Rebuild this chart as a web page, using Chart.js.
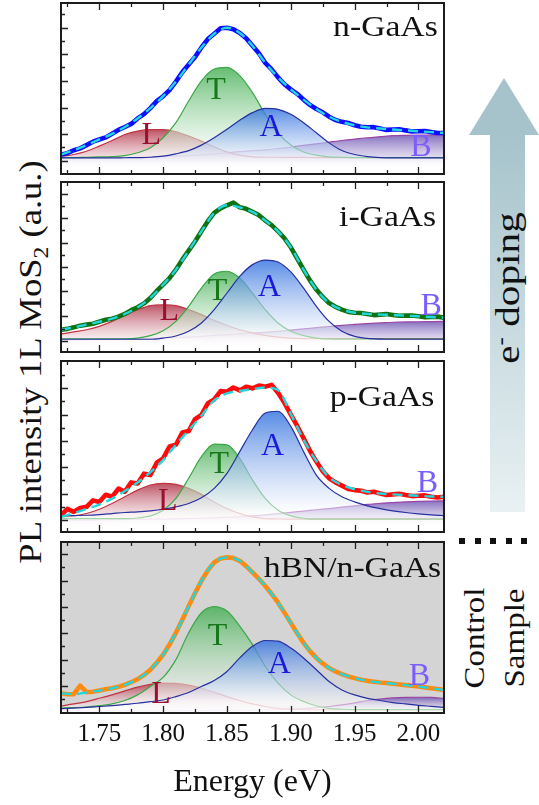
<!DOCTYPE html>
<html>
<head>
<meta charset="utf-8">
<script src="https://cdn.jsdelivr.net/npm/chart.js@4.4.1/dist/chart.umd.min.js"></script>
<style>
  html, body { margin: 0; padding: 0; background: #fff; }
  #fig { position: relative; width: 539px; height: 805px; overflow: hidden;
         font-family: 'Liberation Serif', 'Times New Roman', serif; color: #111; }
  .panel { position: absolute; left: 55px; }
  .rot { position: absolute; white-space: nowrap; transform-origin: center; }
</style>
</head>
<body>
<div id="fig">
  <div class="panel" style="top:0px"><canvas id="c1" width="395" height="180"></canvas></div>
  <div class="panel" style="top:176px"><canvas id="c2" width="395" height="182"></canvas></div>
  <div class="panel" style="top:355px"><canvas id="c3" width="395" height="183"></canvas></div>
  <div class="panel" style="top:536px"><canvas id="c4" width="395" height="269"></canvas></div>

  <div class="rot" style="left:33px; top:362px; font-size:31px; transform: translate(-50%,-50%) rotate(-90deg) scaleX(1.18);">PL intensity 1L MoS<sub style="font-size:20px">2</sub> (a.u.)</div>

  <div style="position:absolute; left:469px; top:78px; width:70px; height:57px; background:#a6c3cb; clip-path: polygon(50% 0, 100% 100%, 0 100%);"></div>
  <div style="position:absolute; left:490px; top:134px; width:35px; height:378px; background: linear-gradient(#a6c3cb, #e9f1f3);"></div>
  <div class="rot" style="left:508px; top:288px; font-size:33px; transform: translate(-50%,-50%) rotate(-90deg) scaleX(1.25);">e<sup style="font-size:20px">-</sup> doping</div>

  <div style="position:absolute; left:459px; top:538px; width:75px; height:6px; background: repeating-linear-gradient(90deg, #111 0 6px, transparent 6px 15.5px);"></div>
  <div class="rot" style="left:494px; top:638px; font-size:30px; line-height:40px; text-align:center; transform: translate(-50%,-50%) rotate(-90deg) scaleX(1.1);">Control<br>Sample</div>
</div>

<script>
// ── Shared axis values ───────────────────────────────────────
const energy = [1.72,1.73,1.74,1.75,1.76,1.77,1.78,1.79,1.80,1.81,1.82,1.83,1.84,1.85,1.86,1.87,1.88,1.89,1.90,1.91,1.92,1.93,1.94,1.95,1.96,1.97,1.98,1.99,2.00,2.01,2.02];
const energyFine = [1.720,1.725,1.730,1.735,1.740,1.745,1.750,1.755,1.760,1.765,1.770,1.775,1.780,1.785,1.790,1.795,1.800,1.805,1.810,1.815,1.820,1.825,1.830,1.835,1.840,1.845,1.850,1.855,1.860,1.865,1.870,1.875,1.880,1.885,1.890,1.895,1.900,1.905,1.910,1.915,1.920,1.925,1.930,1.935,1.940,1.945,1.950,1.955,1.960,1.965,1.970,1.975,1.980,1.985,1.990,1.995,2.000,2.005,2.010,2.015,2.020];
const xMajorTicks = [1.75, 1.80, 1.85, 1.90, 1.95, 2.00];
const xMinorTicks = [1.725, 1.775, 1.825, 1.875, 1.925, 1.975];
const peakNames = ['L', 'T', 'A', 'B'];

// ── n-GaAs ───────────────────────────────────────────────────
const nData = [11.4,12.2,13.9,15.0,16.9,18.9,20.2,21.4,23.5,25.8,27.5,29.3,32.5,35.0,38.5,42.6,45.5,49.1,54.0,59.5,64.0,68.4,74.0,78.9,82.0,85.2,85.5,84.6,82.5,79.4,75.0,70.6,65.0,61.2,56.5,52.5,49.5,46.9,43.5,40.4,38.0,36.1,33.5,31.6,30.5,29.8,28.5,27.6,27.3,27.4,26.6,25.8,26.0,26.2,25.5,24.9,25.0,25.1,24.5,24.0,24.0];
const nFit  = [11.4,13.9,16.9,20.2,23.5,27.5,32.5,38.5,45.5,54,64,74,82,85.5,82.5,75,65,56.5,49.5,43.5,38,33.5,30.5,28.5,27.3,26.6,26,25.5,25,24.5,24];
const nL = [10.2,11.4,13.3,16.3,19.6,23.1,25.1,25.9,25.9,24.7,22.2,19.2,15.9,12.9,11,10,9.8,9.8,9.7,9.7,9.6,9.6,9.6,9.6,9.5,9.5,9.5,9.5,9.5,9.5,9.5];
const nT = [9.6,9.6,9.8,10,10.2,10.8,12.4,15.3,21.2,30,42.7,54.5,61.4,62.4,57.5,47.6,34.9,24.1,16.9,12.9,11,10,9.8,9.6,9.6,9.6,9.6,9.6,9.6,9.6,9.6];
const nA = [9.4,9.4,9.4,9.4,9.4,9.5,9.6,9.8,10.4,11.8,13.7,16.9,21.2,26.1,31.4,35.9,38.4,37.8,34.9,30,24.1,18.2,13.7,11.4,10.2,9.6,9.4,9.4,9.4,9.4,9.4];
const nB = [9,9.1,9.2,9.3,9.4,9.6,9.8,10,10.2,10.5,10.8,11.2,11.8,12.4,13.1,13.7,14.1,14.9,15.7,16.7,17.6,18.6,19.6,20.4,21.2,21.8,22.4,22.6,22.7,22.7,22.7];
const nLabelPos = [[1.7908,22.2],[1.8414,48.6],[1.8845,27],[2.002,15.3]];
const nYMajor = [7.8,23.5,38.8,54.5,70.2,85.5];
const nYMinor = [15.6,31.2,46.7,62.4,77.9,93.3];

// ── i-GaAs ───────────────────────────────────────────────────
const iData = [13.1,13.6,14.5,15.5,16.1,16.6,17.8,19.0,19.6,20.8,22.4,24.6,26.3,28.6,31.8,35.9,39.6,43.5,48.4,54.3,59.6,65.0,71.0,76.9,81.8,84.5,86.3,87.9,85.1,84.2,82.4,80.5,77.3,74.6,71.0,66.9,61.6,55.0,48.4,42.1,36.7,32.4,28.8,26.6,24.9,23.6,23.1,22.9,22.4,21.7,22.0,22.3,21.8,21.3,21.4,21.5,21.0,20.5,20.6,20.8,20.2];
const iFit  = [13.1,14.5,16.1,17.8,19.6,22.4,26.3,31.8,39.6,48.4,59.6,71,81.8,86.3,85.1,82.4,77.3,71,61.6,48.4,36.7,28.8,24.9,23.1,22.4,22,21.8,21.4,21,20.6,20.2];
const iL = [10.6,11.8,13.1,15.1,18,21.6,24.9,27.3,27.8,27.3,24.9,22,18.6,15.7,13.1,11.2,9.8,8.8,8.2,7.9,7.8,7.8,7.8,7.8,7.8,7.8,7.8,7.8,7.8,7.8,7.8];
const iT = [7.8,7.8,7.8,7.8,7.8,7.8,8.2,9.6,12.5,18,26.9,37.6,45.9,47.5,43.5,34.7,24.9,17.1,12.2,9.6,8.2,7.7,7.6,7.6,7.6,7.6,7.6,7.6,7.6,7.6,7.6];
const iA = [7.5,7.5,7.5,7.5,7.5,7.5,7.5,7.5,8.2,9.4,12.2,17.1,24.9,34.7,44.5,51.4,54.1,52.9,47.1,37.6,26.9,18,12.2,9.2,8,7.6,7.5,7.5,7.5,7.5,7.5];
const iB = [7.1,7.2,7.3,7.4,7.5,7.6,7.8,8,8.2,8.5,8.8,9.2,9.8,10.2,10.7,11.1,11.6,12.2,12.9,13.6,14.3,15,15.7,16.2,16.7,17.1,17.5,17.7,17.8,17.9,18];
const iLabelPos = [[1.8049,23.9],[1.8427,35.7],[1.8832,37.6],[2.01,26.9]];
const iYMajor = [6.6,21,35.7,49.8,64.1,78.8,93.1];
const iYMinor = [13.8,28.4,42.8,57,71.5,86];

// ── p-GaAs ───────────────────────────────────────────────────
const pData = [9.8,13.5,11.8,14.0,14.7,18.5,17.6,21.8,20.6,25.4,23.5,29.0,28.4,34.1,33.3,40.5,43.1,50.0,51.0,58.2,59.0,66.0,68.5,75.3,77.5,82.4,82.0,84.5,82.8,84.9,84.0,85.6,85.0,86.0,81.4,75.5,68.6,62.0,54.9,47.5,41.2,35.6,31.4,29.0,27.1,25.2,24.5,24.1,23.1,23.5,22.5,21.6,22.0,22.4,21.6,21.0,21.2,21.4,20.6,20.2,20.6];
const pFit  = [8.8,11,13.5,16,19.5,24,29,35,42,51,59.5,68,77,81,82.5,83.5,84.5,83,69,54,41.5,32,27.5,25,23.5,22.5,22,21.6,21.2,20.8,20.6];
const pL = [8.8,9.4,10.8,13.3,16.7,20.6,24.5,27.5,28.4,27.8,25.5,22,17.6,13.7,10.8,8.8,7.8,7.6,7.5,7.5,7.5,7.5,7.5,7.5,7.5,7.5,7.5,7.5,7.5,7.5,7.5];
const pT = [7.8,7.8,7.8,7.8,7.8,7.8,8.2,9.4,12.7,19.6,31.4,44.1,51.4,51,43.1,30.4,19.6,12.7,9.4,8,7.5,7.5,7.5,7.5,7.5,7.5,7.5,7.5,7.5,7.5,7.5];
const pA = [9.4,9.6,9.8,10.2,10.8,11.4,11.8,12.4,13.3,14.7,16.7,20,25.5,34.3,47,59.8,69.6,70.6,61.8,47,33.3,25.5,20.6,17.6,15.3,13.7,12.4,11.4,10.6,10,9.6];
const pB = [6.9,7,7,7.1,7.2,7.3,7.4,7.5,7.5,7.7,7.9,8.1,8.3,8.6,8.9,9.4,10,10.8,11.5,12.2,13,13.7,14.5,15.3,16.1,16.8,17.2,17.6,17.9,18.1,18.2];
const pLabelPos = [[1.8036,17.6],[1.844,39.2],[1.8858,50],[2.007,28.4]];
const pYMajor = [7.3,22.5,37.8,53.3,68.6,84.3];
const pYMinor = [14.9,30.2,45.6,61,76.5,92];

// ── hBN/n-GaAs (control) ─────────────────────────────────────
const hData = [11.6,11.0,11.0,16.0,12.2,12.4,13.1,13.9,14.5,15.3,16.5,18.0,19.8,22.2,25.3,29.4,34.1,40.0,46.9,54.6,62.5,70.2,77.3,83.4,88.0,90.4,91.0,90.6,89.0,85.9,82.2,78.5,74.3,69.6,64.5,58.7,52.7,46.6,41.0,36.2,32.2,29.0,26.3,24.3,22.7,21.4,20.4,19.5,18.8,18.3,17.8,17.5,17.1,16.7,16.3,15.9,15.5,15.0,14.5,14.0,13.5];
const hFit  = [11.6,11,12,13.1,14.5,16.5,19.8,25.3,34.1,46.9,62.5,77.3,88,91,89,82.2,74.3,64.5,52.7,41,32.2,26.3,22.7,20.4,18.8,17.8,17.1,16.3,15.5,14.5,13.5];
const hL = [4.1,5.3,6.7,8.6,10.6,12.9,15.1,16.7,17.5,17.3,16.3,14.5,12.2,9.6,7.3,5.3,3.7,2.7,2.2,1.9,1.8,1.8,1.8,1.8,1.8,1.8,1.8,1.8,1.8,1.8,1.8];
const hT = [2.9,3.1,3.5,4.3,5.3,7.3,10.6,15.5,20.8,31.2,46.9,58.6,62.2,59.6,50.8,40,27.3,17.5,10.6,6.7,4.1,2.7,2.2,2,2,2,2,2,2,2,2];
const hA = [2.5,2.9,3.3,3.8,4.3,5,5.7,6.6,7.6,9.6,12,15.5,19,24.3,32.2,39,42.4,42,38,32.2,25.3,18.4,13.5,10.6,8.6,7.3,6.1,5.3,4.5,3.9,3.3];
const hB = [1.2,1.2,1.2,1.2,1.2,1.2,1.2,1.3,1.3,1.3,1.4,1.4,1.5,1.5,1.6,1.7,1.8,2,2.2,2.6,3.1,3.8,4.7,5.9,7.3,8.2,8.8,9.1,9.2,9.1,8.6];
const hLabelPos = [[1.7983,10.6],[1.8427,44.9],[1.891,28.2],[2.0008,21.4]];
const hYMajor = [15.9,31.2,46.5,62,77.3,92.9];
const hYMinor = [8.3,23.6,38.9,54.3,69.7,85.1];

const panelNames = ['n-GaAs', 'i-GaAs', 'p-GaAs', 'hBN/n-GaAs'];
const panelNamePos = [[2.0151,84.9],[2.0139,78.8],[2.0125,78.4],[2.0178,84.1]];

// ── Styles ───────────────────────────────────────────────────
const SERIF = "'Liberation Serif', 'Times New Roman', serif";
const FIT_COLOR = '#22d6dc';
const COMP = {
  L: { line: '#c3323f', fill: [172, 40, 62],  text: '#9b0f2f' },
  T: { line: '#3ba845', fill: [62, 172, 78],  text: '#16781a' },
  A: { line: '#27309e', fill: [45, 110, 222], text: '#1a1ad8' },
  B: { line: '#9a45a6', fill: [104, 76, 176], text: '#7b5cff' },
};

function pts(xs, ys) { return ys.map((v, i) => ({ x: xs[i], y: v })); }

// vertical gradient: colour at the component's peak, fading to white at the bottom
function fade(rgb) {
  return (ctx) => {
    const chart = ctx.chart;
    const area = chart.chartArea;
    if (!area) return 'transparent';
    const top = chart.scales.y.getPixelForValue(Math.max(...ctx.dataset.data.map(p => p.y)));
    const g = chart.ctx.createLinearGradient(0, top, 0, area.bottom);
    g.addColorStop(0, `rgba(${rgb.join(',')},0.8)`);
    g.addColorStop(0.85, 'rgba(255,255,255,0.5)');
    g.addColorStop(1, 'rgba(255,255,255,0.6)');
    return g;
  };
}

function component(vals, key, order) {
  const c = COMP[key];
  return {
    data: pts(energy, vals),
    borderColor: c.line,
    borderWidth: 1.2,
    pointRadius: 0,
    cubicInterpolationMode: 'monotone',
    fill: 'start',
    backgroundColor: fade(c.fill),
    order,
  };
}

// frame, inside ticks and the text labels of one panel
function decor(p) {
  return {
    id: 'decor' + p.idx,
    beforeDraw(chart) {
      if (!p.bg) return;
      const a = chart.chartArea;
      chart.ctx.save();
      chart.ctx.fillStyle = p.bg;
      chart.ctx.fillRect(a.left, a.top, a.width, a.height);
      chart.ctx.restore();
    },
    afterDraw(chart) {
      const { ctx, chartArea: a, scales: { x, y } } = chart;
      ctx.save();
      ctx.beginPath();
      ctx.rect(a.left, a.top, a.width, a.height);
      ctx.clip();

      // peak letters
      ctx.font = `32px ${SERIF}`;
      ctx.textAlign = 'center';
      ctx.textBaseline = 'middle';
      p.labels.forEach((pos, i) => {
        ctx.fillStyle = COMP[peakNames[i]].text;
        ctx.fillText(peakNames[i], x.getPixelForValue(pos[0]), y.getPixelForValue(pos[1]));
      });

      // sample name
      ctx.fillStyle = '#111';
      ctx.font = `29px ${SERIF}`;
      ctx.textAlign = 'right';
      ctx.translate(x.getPixelForValue(p.namePos[0]), y.getPixelForValue(p.namePos[1]));
      ctx.scale(1.16, 1);
      ctx.fillText(p.name, 0, 0);
      ctx.restore();

      // ticks pointing inward
      ctx.save();
      ctx.strokeStyle = '#222';
      ctx.lineWidth = 1.3;
      ctx.beginPath();
      const xt = (v, len) => {
        const px = Math.round(x.getPixelForValue(v)) + 0.5;
        ctx.moveTo(px, a.bottom); ctx.lineTo(px, a.bottom - len);
        ctx.moveTo(px, a.top); ctx.lineTo(px, a.top + len);
      };
      const yt = (v, len) => {
        const py = Math.round(y.getPixelForValue(v)) + 0.5;
        ctx.moveTo(a.left, py); ctx.lineTo(a.left + len, py);
      };
      xMajorTicks.forEach(v => xt(v, 7));
      xMinorTicks.forEach(v => xt(v, 4));
      p.yMajor.forEach(v => yt(v, 7));
      p.yMinor.forEach(v => yt(v, 4));
      ctx.stroke();
      ctx.lineWidth = 2;
      ctx.strokeStyle = '#1c1c1c';
      ctx.strokeRect(a.left, a.top, a.width, a.height);
      ctx.restore();
    }
  };
}

const panels = [
  { idx: 0, canvas: 'c1', data: nData, fit: nFit, L: nL, T: nT, A: nA, B: nB, dataColor: '#0d0dff', labels: nLabelPos, yMajor: nYMajor, yMinor: nYMinor, pad: { top: 3, bottom: 6 } },
  { idx: 1, canvas: 'c2', data: iData, fit: iFit, L: iL, T: iT, A: iA, B: iB, dataColor: '#107212', labels: iLabelPos, yMajor: iYMajor, yMinor: iYMinor, pad: { top: 6, bottom: 6 } },
  { idx: 2, canvas: 'c3', data: pData, fit: pFit, L: pL, T: pT, A: pA, B: pB, dataColor: '#ff0a0a', labels: pLabelPos, yMajor: pYMajor, yMinor: pYMinor, pad: { top: 6, bottom: 6 } },
  { idx: 3, canvas: 'c4', data: hData, fit: hFit, L: hL, T: hT, A: hA, B: hB, dataColor: '#ff8a12', labels: hLabelPos, yMajor: hYMajor, yMinor: hYMinor, pad: { top: 6, bottom: 3.6 }, bg: '#d4d4d4', bottom: true },
];

panels.forEach(p => {
  p.name = panelNames[p.idx];
  p.namePos = panelNamePos[p.idx];
  new Chart(document.getElementById(p.canvas), {
    type: 'line',
    data: {
      datasets: [
        { data: pts(energy, p.fit), borderColor: FIT_COLOR, borderWidth: 2.4, borderDash: [10, 6],
          pointRadius: 0, cubicInterpolationMode: 'monotone', fill: false, order: 1 },
        { data: pts(energyFine, p.data), borderColor: p.dataColor, borderWidth: 4.6,
          borderJoinStyle: 'round', pointRadius: 0, tension: 0, fill: false, order: 2 },
        component(p.A, 'A', 3),
        component(p.T, 'T', 4),
        component(p.L, 'L', 5),
        component(p.B, 'B', 6),
      ]
    },
    options: {
      responsive: false,
      animation: false,
      events: [],
      layout: { padding: { left: 6, right: 6, top: p.pad.top, bottom: p.pad.bottom } },
      plugins: { legend: { display: false }, tooltip: { enabled: false } },
      scales: {
        x: {
          type: 'linear', min: 1.72, max: 2.02,
          display: !!p.bottom,
          afterBuildTicks: axis => { axis.ticks = xMajorTicks.map(v => ({ value: v })); },
          grid: { display: false, drawTicks: false },
          border: { display: false },
          ticks: {
            font: { family: SERIF, size: 25 }, color: '#111', padding: 6,
            maxRotation: 0, autoSkip: false,
            callback: v => Number(v).toFixed(2),
          },
          title: { display: true, text: 'Energy (eV)', color: '#111',
                   font: { family: SERIF, size: 32 }, padding: { top: 8, bottom: 0 } },
        },
        y: { type: 'linear', min: 0, max: 100, display: false },
      }
    },
    plugins: [decor(p)]
  });
});
</script>
</body>
</html>
